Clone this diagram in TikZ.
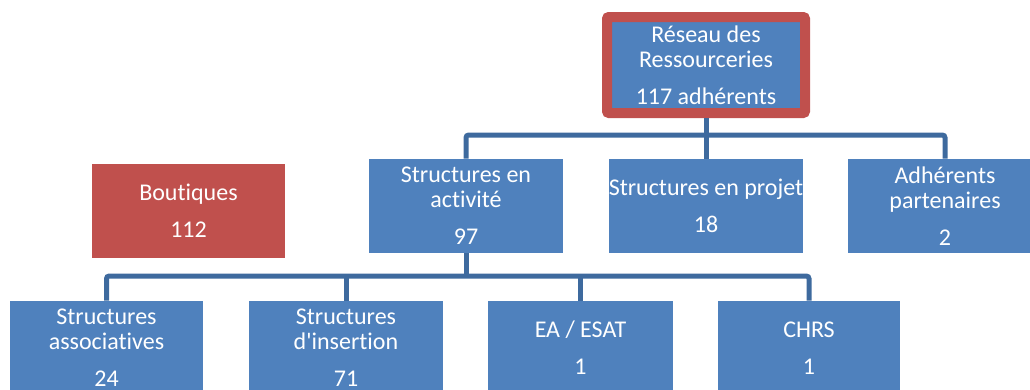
\documentclass[tikz,border=0pt]{standalone}
\usepackage{fontspec}
\setmainfont{Carlito}[Ligatures=NoCommon]

\definecolor{boxblue}{RGB}{79,129,189}
\definecolor{boxred}{RGB}{192,80,77}
\definecolor{linkblue}{RGB}{62,106,158}

\tikzset{
  box/.style={fill=boxblue, text=white, align=center, inner xsep=0pt, inner ysep=0pt,
    minimum width=145.5pt, minimum height=70.5pt, font=\fontsize{18}{18.75}\selectfont},
  headbox/.style={box, draw=boxred, line width=7.5pt, rounded corners=1.5pt,
    minimum width=148.5pt, minimum height=72pt},
  shopbox/.style={box, fill=boxred},
  link/.style={draw=linkblue, line width=3.75pt, rounded corners=2pt},
}

\begin{document}
\begin{tikzpicture}[x=0.75pt, y=-0.75pt]
	\useasboundingbox (0,0) rectangle (1030,389);
	\clip (0,0) rectangle (1030,389);

	% Network
	\node[headbox] (reseau) at (706,65) {Réseau des\\Ressourceries\\[9pt]117 adhérents};

	% Members
	\node[shopbox, minimum width=144.75pt] (boutiques) at (188.5,211) {Boutiques\\[9pt]112};
	\node[box] (activite) at (466,206) {Structures en\\activité\\[9pt]97};
	\node[box] (projet) at (706,206) {Structures en projet\\[9pt]18};
	\node[box] (partenaires) at (945,206) {Adhérents\\partenaires\\[9pt]2};

	% Active structures
	\node[box, minimum width=144.75pt] (assoc) at (106.5,348) {Structures\\associatives\\[9pt]24};
	\node[box] (insertion) at (346,348) {Structures\\d\textquotesingle insertion\\[9pt]71};
	\node[box, minimum width=138.75pt] (esat) at (580.5,348) {EA / ESAT\\[9pt]1};
	\node[box, minimum width=136.5pt] (chrs) at (809,348) {CHRS\\[9pt]1};

	% Links
	\coordinate (bus1) at (706,135);
	\coordinate (bus2) at (466,276);
	\draw[link] (reseau.south) -- (bus1);
	\draw[link] (activite.north) |- (bus1) -| (partenaires.north);
	\draw[link] (projet.north) -- (bus1);

	\draw[link] (activite.south) -- (bus2);
	\draw[link] (assoc.north) |- (bus2) -| (chrs.north);
	\draw[link] (insertion.north) -- (insertion.north |- bus2);
	\draw[link] (esat.north) -- (esat.north |- bus2);
\end{tikzpicture}
\end{document}
